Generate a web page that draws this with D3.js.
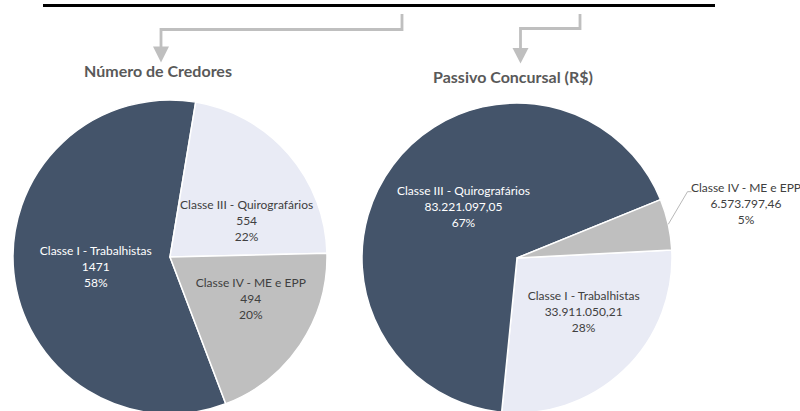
<!DOCTYPE html>
<html>
<head>
<meta charset="utf-8">
<script src="https://cdn.jsdelivr.net/npm/d3@7"></script>
<style>
  body { margin: 0; background: #fff; }
  text { font-family: Lato, "Open Sans", sans-serif; }
</style>
</head>
<body>
<section id="grafico"></section>
<script>

// data
const categories = ["Classe I - Trabalhistas", "Classe III - Quirografários", "Classe IV - ME e EPP"];
const credores = [1471, 554, 494];
const credoresLabels = ["1471", "554", "494"];
const credoresPct = ["58%", "22%", "20%"];
const passivo = [33911050.21, 83221097.05, 6573797.46];
const passivoLabels = ["33.911.050,21", "83.221.097,05", "6.573.797,46"];
const passivoPct = ["28%", "67%", "5%"];
const titles = ["Número de Credores", "Passivo Concursal (R$)"];

const width = 800;
const height = 411;

const dark = "#44546A", light = "#E9EBF5", mid = "#BFBFBF";

const svg = d3.select("section#grafico")
    .append("svg")
    .attr("width", width)
    .attr("height", height);

// header line
svg.append("rect")
    .attr("x", 43).attr("y", 4)
    .attr("width", 672).attr("height", 3)
    .attr("fill", "#000");

// arrows (elbow connectors)
const grey = "#BFBFBF";
svg.append("path")
    .attr("d", "M402,14 V29.5 H161 V48")
    .attr("fill", "none").attr("stroke", grey).attr("stroke-width", 2.8);
svg.append("path")
    .attr("d", "M153,46.5 L169,46.5 L161,62.5 Z")
    .attr("fill", grey);
svg.append("path")
    .attr("d", "M580,14 V28.5 H520.5 V50")
    .attr("fill", "none").attr("stroke", grey).attr("stroke-width", 2.8);
svg.append("path")
    .attr("d", "M512.5,48 L528.5,48 L520.5,63.5 Z")
    .attr("fill", grey);

// titles
svg.append("text")
    .attr("x", 158).attr("y", 77)
    .attr("text-anchor", "middle")
    .style("font-size", "16px").style("font-weight", "bold")
    .attr("fill", "#595959")
    .text(titles[0]);
svg.append("text")
    .attr("x", 513).attr("y", 82.5)
    .attr("text-anchor", "middle")
    .style("font-size", "16px").style("font-weight", "bold")
    .attr("fill", "#595959")
    .text(titles[1]);

const deg = Math.PI / 180;

// one pie
function drawPie(cfg) {
    const data = categories.map((c, i) => ({cat: c, value: cfg.values[i], label: cfg.labels[i], pct: cfg.pct[i]}));

    const color = d3.scaleOrdinal().domain(categories).range(cfg.colors);

    const pie = d3.pie()
        .sort(null)
        .value(d => d.value)
        .startAngle(cfg.start * deg)
        .endAngle(cfg.start * deg + 2 * Math.PI);

    const arc = d3.arc().innerRadius(0).outerRadius(cfg.r);
    const labelArc = d3.arc().innerRadius(cfg.r * 0.52).outerRadius(cfg.r * 0.52);
    const edgeArc = d3.arc().innerRadius(cfg.r).outerRadius(cfg.r);

    const g = svg.append("g")
        .attr("transform", `translate(${cfg.cx},${cfg.cy})`);

    const arcs = pie(data);

    g.selectAll("path.slice")
        .data(arcs)
        .enter()
        .append("path")
        .attr("class", "slice")
        .attr("d", arc)
        .attr("fill", d => color(d.data.cat))
        .attr("stroke", "#fff")
        .attr("stroke-width", 1.5)
        .attr("stroke-linejoin", "round");

    arcs.forEach((d, i) => {
        const lines = [d.data.cat, d.data.label, d.data.pct];
        const out = cfg.outside[i];
        let x, y;
        const t = g.append("text")
            .attr("text-anchor", "middle")
            .attr("fill", (!out && color(d.data.cat) === dark) ? "#ffffff" : "#404040")
            .style("font-size", "12px");
        if (out) {
            const [sx, sy] = edgeArc.centroid(d);
            let ex = sx + out[0];
            const ey = sy + out[1];
            // keep the block inside the page (right edge)
            x = Math.min(ex + 4 + 53.5, width - cfg.cx - 54);
            ex = Math.min(ex, x - 53.5 - 5);
            g.append("path")
                .attr("d", `M${sx},${sy} L${ex},${ey} H${ex + 4}`)
                .attr("fill", "none")
                .attr("stroke", "#A6A6A6")
                .attr("stroke-width", 0.8);
            y = ey + 16 - 3.5;
        } else {
            const c = labelArc.centroid(d);
            const n = cfg.nudge[i];
            x = c[0] + n[0];
            y = c[1] + n[1];
        }
        lines.forEach((l, k) => {
            t.append("tspan")
                .attr("x", x)
                .attr("y", y + (k - 1) * 16 + 4)
                .text(l);
        });
    });
}

drawPie({
    values: credores, labels: credoresLabels, pct: credoresPct,
    colors: [dark, light, mid],
    cx: 170, cy: 257, r: 157, start: 159.2,
    nudge: [[7, 2], [15, 18], [13, -4]],
    outside: [null, null, null]
});

drawPie({
    values: passivo, labels: passivoLabels, pct: passivoPct,
    colors: [light, dark, mid],
    cx: 517, cy: 258, r: 155, start: 87,
    nudge: [[11, -4], [11, -3], [0, 0]],
    outside: [null, null, [24, -32.6]]
});

</script>
</body>
</html>
